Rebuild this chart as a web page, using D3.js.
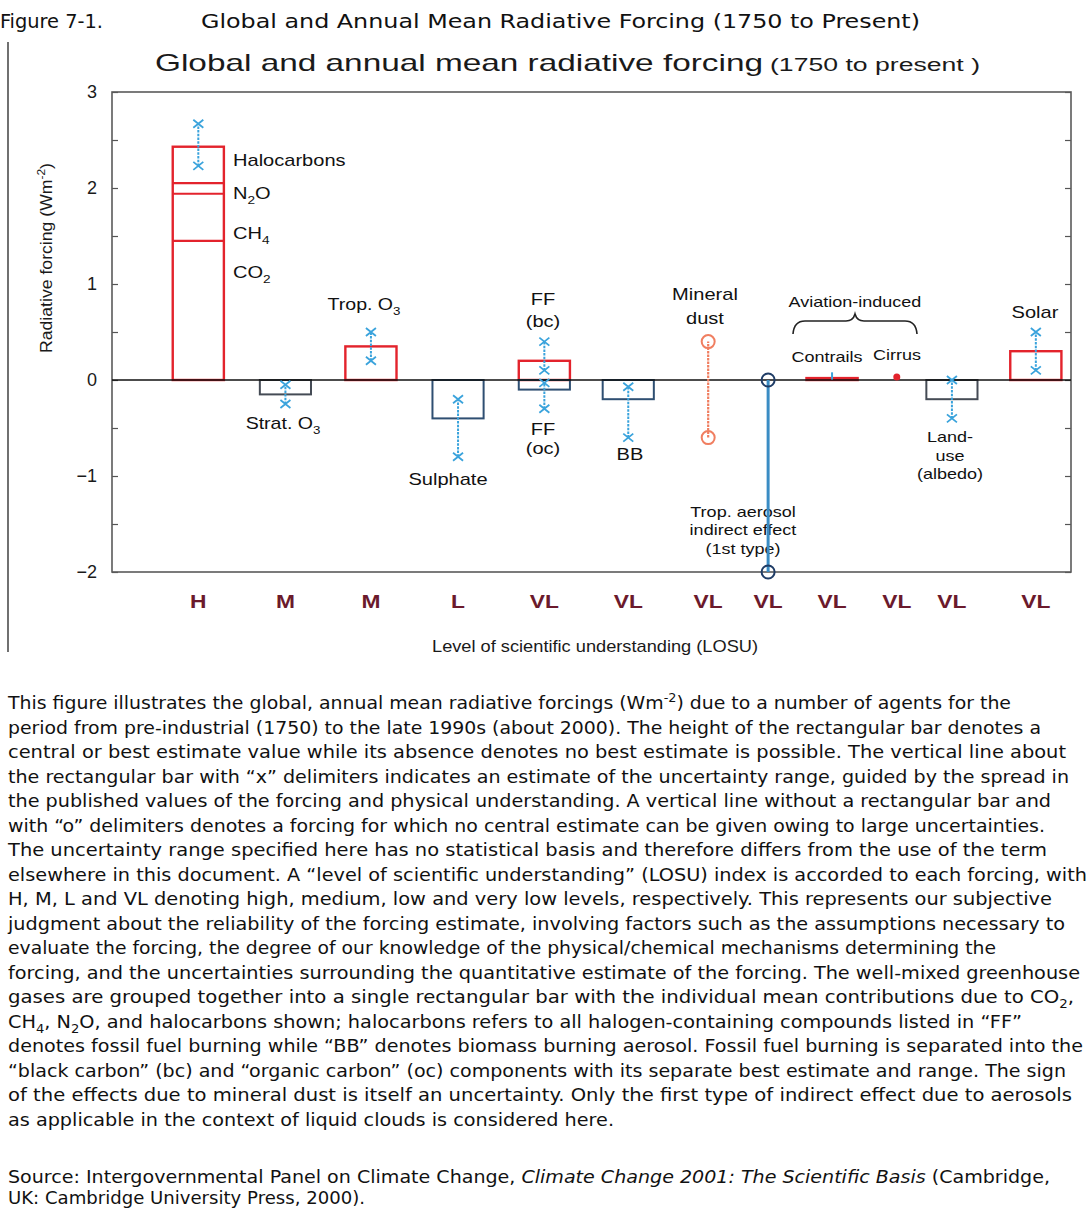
<!DOCTYPE html>
<html><head><meta charset="utf-8">
<script src="https://cdn.jsdelivr.net/npm/d3@7"></script>
<style>body{margin:0;background:#fff}svg{display:block}</style>
</head><body>
<svg id="c" width="1091" height="1210"></svg>
<script>
// ---------------- DATA ----------------
const losuLabels  = ["H","M","M","L","VL","VL","VL","VL","VL","VL","VL","VL"];
const slotCenters = [1.08,2.17,3.24,4.33,5.41,6.46,7.46,8.21,9.01,9.82,10.51,11.56];

const ghgGases  = ["CO_{2}","CH_{4}","N_{2}O","Halocarbons"];
const ghgValues = [1.45,0.49,0.11,0.38];
const ghgRange  = [2.23,2.67];

const barAgents    = ["Strat. O3","Trop. O3","Sulphate","FF (bc)","FF (oc)","BB","Contrails","Land-use","Solar"];
const barSlots     = [1,2,3,4,4,5,8,10,11];
const barValues    = [-0.15,0.35,-0.40,0.20,-0.10,-0.20,0.02,-0.20,0.30];
const barRangeLow  = [-0.25,0.20,-0.80,0.10,-0.30,-0.60,0.005,-0.40,0.10];
const barRangeHigh = [-0.05,0.50,-0.20,0.40,-0.03,-0.07,0.08,0.00,0.50];

const noEstAgents = ["Mineral dust","Trop. aerosol indirect effect (1st type)"];
const noEstSlots  = [6,7];
const noEstLow    = [-0.60,-2.00];
const noEstHigh   = [0.40,0.00];

const cirrusSlot  = 9;
const cirrusValue = 0.03;

const yTicks = [-2,-1,0,1,2,3];

const bodyLines = [
 "This figure illustrates the global, annual mean radiative forcings (Wm^{-2}) due to a number of agents for the",
 "period from pre-industrial (1750) to the late 1990s (about 2000). The height of the rectangular bar denotes a",
 "central or best estimate value while its absence denotes no best estimate is possible. The vertical line about",
 "the rectangular bar with \u201cx\u201d delimiters indicates an estimate of the uncertainty range, guided by the spread in",
 "the published values of the forcing and physical understanding. A vertical line without a rectangular bar and",
 "with \u201co\u201d delimiters denotes a forcing for which no central estimate can be given owing to large uncertainties.",
 "The uncertainty range specified here has no statistical basis and therefore differs from the use of the term",
 "elsewhere in this document. A \u201clevel of scientific understanding\u201d (LOSU) index is accorded to each forcing, with",
 "H, M, L and VL denoting high, medium, low and very low levels, respectively. This represents our subjective",
 "judgment about the reliability of the forcing estimate, involving factors such as the assumptions necessary to",
 "evaluate the forcing, the degree of our knowledge of the physical/chemical mechanisms determining the",
 "forcing, and the uncertainties surrounding the quantitative estimate of the forcing. The well-mixed greenhouse",
 "gases are grouped together into a single rectangular bar with the individual mean contributions due to CO_{2},",
 "CH_{4}, N_{2}O, and halocarbons shown; halocarbons refers to all halogen-containing compounds listed in \u201cFF\u201d",
 "denotes fossil fuel burning while \u201cBB\u201d denotes biomass burning aerosol. Fossil fuel burning is separated into the",
 "\u201cblack carbon\u201d (bc) and \u201corganic carbon\u201d (oc) components with its separate best estimate and range. The sign",
 "of the effects due to mineral dust is itself an uncertainty. Only the first type of indirect effect due to aerosols",
 "as applicable in the context of liquid clouds is considered here."
];
const bodyLineEnds = [1011,1041,1066,1069,1051,1045,1047,1087,1052,1065,996,1080,1074,1022,1083,1066,1072,614];

// ---------------- LAYOUT ----------------
const svg = d3.select("#c");
const L = 112, R = 1071, T = 92, B = 572;
const x = d3.scaleLinear().domain([0,12]).range([L,R]);
const y = d3.scaleLinear().domain([-2,3]).range([B,T]);
const halfW = 0.32;
const RED = "#e3232c", EBLUE = "#3aa3dc", DARK = "#2f4f72", GREY = "#454b55";
const FONT = "'Liberation Sans', Arial, Helvetica, sans-serif";

function rich(sel, str, fs){
  const parts = str.split(/([_^]\{[^}]*\})/);
  let pending = 0;
  parts.forEach(p=>{
    if(!p) return;
    const m = p.match(/^([_^])\{([^}]*)\}$/);
    if(m){
      const d = m[1]==="_" ? fs*0.3 : -fs*0.4;
      sel.append("tspan").attr("dy", d + pending).attr("font-size", fs*0.68).text(m[2]);
      pending = -d;
    } else {
      sel.append("tspan").attr("dy", pending).text(p);
      pending = 0;
    }
  });
  return sel;
}
function stretch(sel, k){
  sel.each(function(){
    const w = this.getComputedTextLength();
    d3.select(this).attr("textLength", w*k).attr("lengthAdjust","spacingAndGlyphs");
  });
}
function label(str, px, py, fs, anchor, k, opts){
  const t = svg.append("text").attr("x",px).attr("y",py)
    .attr("font-family", FONT).attr("font-size", fs)
    .attr("text-anchor", anchor||"middle").attr("fill", (opts&&opts.fill)||"#111");
  if(opts && opts.weight) t.attr("font-weight", opts.weight);
  rich(t, str, fs);
  if(k) stretch(t,k);
  return t;
}

// ---------------- HEADER ----------------
svg.append("text").attr("x",0).attr("y",28).attr("font-family","'DejaVu Sans Condensed','DejaVu Sans',sans-serif")
  .attr("font-size",20).attr("fill","#111").attr("textLength",103).attr("lengthAdjust","spacingAndGlyphs").text("Figure 7-1.");
svg.append("text").attr("x",201).attr("y",28).attr("font-family","'DejaVu Sans Condensed','DejaVu Sans',sans-serif")
  .attr("font-size",20).attr("fill","#111").attr("textLength",719).attr("lengthAdjust","spacingAndGlyphs")
  .text("Global and Annual Mean Radiative Forcing (1750 to Present)");
svg.append("line").attr("x1",8).attr("x2",8).attr("y1",42).attr("y2",652).attr("stroke","#111").attr("stroke-width",1.2);

// chart title
svg.append("text").attr("x",155).attr("y",71).attr("font-family",FONT).attr("font-size",24).attr("fill","#1a1a1a")
  .attr("textLength",608).attr("lengthAdjust","spacingAndGlyphs").text("Global and annual mean radiative forcing");
svg.append("text").attr("x",770).attr("y",71).attr("font-family",FONT).attr("font-size",18).attr("fill","#1a1a1a")
  .attr("textLength",210).attr("lengthAdjust","spacingAndGlyphs").text("(1750 to present )");

// ---------------- AXES ----------------
const halfTicks = d3.range(-2, 3.01, 0.5);
svg.append("g").attr("transform",`translate(${L},0)`)
  .call(d3.axisRight(y).tickValues(halfTicks).tickSize(6).tickFormat(""))
  .call(g=>{g.select(".domain").remove(); g.selectAll("line").attr("stroke","#555").attr("stroke-width",1.2);});
svg.append("g").attr("transform",`translate(${R},0)`)
  .call(d3.axisLeft(y).tickValues(halfTicks).tickSize(6).tickFormat(""))
  .call(g=>{g.select(".domain").remove(); g.selectAll("line").attr("stroke","#555").attr("stroke-width",1.2);});
svg.append("g").attr("transform",`translate(${L},0)`)
  .call(d3.axisLeft(y).tickValues(yTicks).tickSize(0).tickPadding(15).tickFormat(d3.format("d")))
  .call(g=>{g.select(".domain").remove();
    g.selectAll("text").attr("font-family",FONT).attr("font-size",18).attr("fill","#1a1a1a");});
svg.append("rect").attr("x",L).attr("y",T).attr("width",R-L).attr("height",B-T)
  .attr("fill","none").attr("stroke","#5a5a5a").attr("stroke-width",1.6);

// y axis title
(function(){
  const t = svg.append("text").attr("transform","translate(52,258) rotate(-90)")
    .attr("font-family",FONT).attr("font-size",17).attr("text-anchor","middle").attr("fill","#1a1a1a");
  rich(t,"Radiative forcing  (Wm^{-2})",17);
  t.attr("textLength",190).attr("lengthAdjust","spacingAndGlyphs");
})();

// LOSU labels
losuLabels.forEach((s,i)=>{
  label(s, x(slotCenters[i]), 608, 19, "middle", 1.2, {fill:"#6b1a2c", weight:"bold"});
});
svg.append("text").attr("x",595).attr("y",652).attr("font-family",FONT).attr("font-size",17).attr("fill","#1a1a1a")
  .attr("text-anchor","middle").attr("textLength",326).attr("lengthAdjust","spacingAndGlyphs")
  .text("Level  of scientific understanding (LOSU)");

// ---------------- ANNOTATIONS ----------------
label("Halocarbons", 233, 166, 17, "start", 1.18);
label("N_{2}O", 233, 199, 17, "start", 1.18);
label("CH_{4}", 233, 239, 17, "start", 1.18);
label("CO_{2}", 233, 278, 17, "start", 1.18);
label("Trop. O_{3}", 364, 310, 17, "middle", 1.15);
label("Strat. O_{3}", 283, 429, 17, "middle", 1.15);
label("Sulphate", 448, 485, 17, "middle", 1.18);
label("FF", 543, 305, 17, "middle", 1.18);
label("(bc)", 543, 327, 17, "middle", 1.18);
label("FF", 543, 435, 17, "middle", 1.18);
label("(oc)", 543, 454, 17, "middle", 1.18);
label("BB", 630, 460, 17, "middle", 1.18);
label("Mineral", 705, 300, 17, "middle", 1.18);
label("dust", 705, 324, 17, "middle", 1.18);
label("Trop. aerosol", 743, 517, 15, "middle", 1.2);
label("indirect effect", 743, 535, 15, "middle", 1.2);
label("(1st type)", 743, 554, 15, "middle", 1.2);
label("Aviation-induced", 855, 307, 15, "middle", 1.2);
label("Contrails", 827, 362, 15, "middle", 1.2);
label("Cirrus", 897, 360, 15, "middle", 1.2);
label("Land-", 950, 442, 15, "middle", 1.2);
label("use", 950, 461, 15, "middle", 1.2);
label("(albedo)", 950, 479, 15, "middle", 1.2);
label("Solar", 1035, 318, 17, "middle", 1.18);
svg.append("path")
  .attr("d","M793,334 Q794,321 805,321 L846,321 Q853,321 855,314 Q857,321 864,321 L905,321 Q916,321 917,334")
  .attr("fill","none").attr("stroke","#222").attr("stroke-width",1.6);

// ---------------- MARKS ----------------
// GHG stacked bar
const ghgTops = d3.cumsum(ghgValues);
svg.append("rect").attr("x",x(slotCenters[0]-halfW)).attr("y",y(ghgTops[ghgTops.length-1]))
  .attr("width",x(halfW*2)-x(0)).attr("height",y(0)-y(ghgTops[ghgTops.length-1]))
  .attr("fill","none").attr("stroke",RED).attr("stroke-width",2.4);
svg.selectAll(".ghgline").data(ghgTops.slice(0,-1)).join("line")
  .attr("x1",x(slotCenters[0]-halfW)).attr("x2",x(slotCenters[0]+halfW))
  .attr("y1",d=>y(d)).attr("y2",d=>y(d)).attr("stroke",RED).attr("stroke-width",2.2);

// other bars
const barColor = (v,name)=> v>0 ? RED : ((name==="Strat. O3"||name==="Land-use") ? GREY : DARK);
barAgents.forEach((name,i)=>{
  const v = barValues[i], s = slotCenters[barSlots[i]];
  svg.append("rect").attr("x",x(s-halfW)).attr("y",Math.min(y(v),y(0)))
    .attr("width",x(halfW*2)-x(0)).attr("height",Math.abs(y(v)-y(0)))
    .attr("fill","none").attr("stroke",barColor(v,name)).attr("stroke-width",v>0?2.4:2);
});

// zero line
svg.append("line").attr("x1",L).attr("x2",R).attr("y1",y(0)).attr("y2",y(0)).attr("stroke","#111").attr("stroke-width",1.5);

// error bars with x markers
function errBar(slot, lo, hi, markers){
  const cx = x(slot);
  svg.append("line").attr("x1",cx).attr("x2",cx).attr("y1",y(lo)).attr("y2",y(hi))
    .attr("stroke",EBLUE).attr("stroke-width",2).attr("stroke-dasharray",markers?"2.5 1.2":null);
  if(!markers) return;
  [lo,hi].forEach(v=>{
    const cy = y(v);
    svg.append("path").attr("d",`M${cx-5},${cy-4}L${cx+5},${cy+4}M${cx-5},${cy+4}L${cx+5},${cy-4}`)
      .attr("stroke",EBLUE).attr("stroke-width",1.8).attr("fill","none");
  });
}
errBar(slotCenters[0], ghgRange[0], ghgRange[1], true);
barAgents.forEach((name,i)=>{
  errBar(slotCenters[barSlots[i]], barRangeLow[i], barRangeHigh[i], name!=="Contrails");
});

// no-best-estimate ranges
const noEstLine = ["#f07e60","#3a8cc4"], noEstCirc = ["#f07e60","#1f3c66"];
noEstAgents.forEach((name,i)=>{
  const cx = x(slotCenters[noEstSlots[i]]);
  svg.append("line").attr("x1",cx).attr("x2",cx).attr("y1",y(noEstLow[i])).attr("y2",y(noEstHigh[i]))
    .attr("stroke",noEstLine[i]).attr("stroke-width",i===1?3:2.2).attr("stroke-dasharray",i===0?"2.5 1":null);
  [noEstLow[i],noEstHigh[i]].forEach(v=>{
    svg.append("circle").attr("cx",cx).attr("cy",y(v)).attr("r",6.5)
      .attr("fill","none").attr("stroke",noEstCirc[i]).attr("stroke-width",2);
  });
});

// cirrus
svg.append("circle").attr("cx",x(slotCenters[cirrusSlot])).attr("cy",y(cirrusValue)).attr("r",3.5).attr("fill",RED);

// ---------------- BODY TEXT ----------------
const BFONT = "'DejaVu Sans', Verdana, sans-serif";
const BFS = 17.5;
bodyLines.forEach((s,i)=>{
  const t = svg.append("text").attr("x",8).attr("y",709 + i*24.5)
    .attr("font-family",BFONT).attr("font-size",BFS).attr("fill","#111");
  rich(t, s, BFS);
  t.attr("textLength", bodyLineEnds[i]-8).attr("lengthAdjust","spacingAndGlyphs");
});
(function(){
  const t = svg.append("text").attr("x",8).attr("y",1183).attr("font-family",BFONT).attr("font-size",BFS).attr("fill","#111");
  t.append("tspan").text("Source: Intergovernmental Panel on Climate Change, ");
  t.append("tspan").attr("font-style","italic").text("Climate Change 2001: The Scientific Basis");
  t.append("tspan").text(" (Cambridge,");
  t.attr("textLength",1042).attr("lengthAdjust","spacingAndGlyphs");
  svg.append("text").attr("x",8).attr("y",1204).attr("font-family",BFONT).attr("font-size",BFS).attr("fill","#111")
    .attr("textLength",357).attr("lengthAdjust","spacingAndGlyphs")
    .text("UK: Cambridge University Press, 2000).");
})();
</script>
</body></html>
